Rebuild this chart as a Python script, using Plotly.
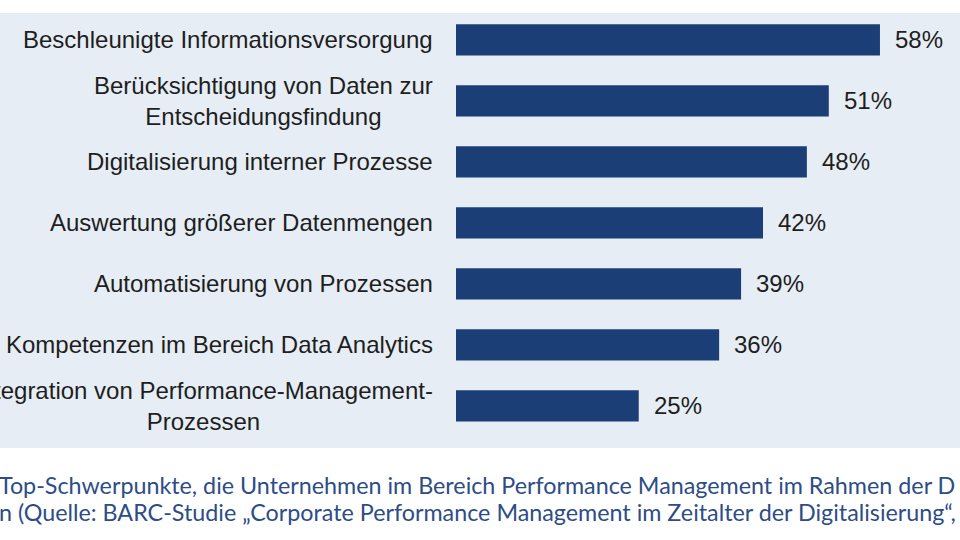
import plotly.graph_objects as go

categories = [
    "Beschleunigte Informationsversorgung",
    "Berücksichtigung von Daten zur<br>Entscheidungsfindung",
    "Digitalisierung interner Prozesse",
    "Auswertung größerer Datenmengen",
    "Automatisierung von Prozessen",
    "Kompetenzen im Bereich Data Analytics",
    "Integration von Performance-Management-<br>Prozessen",
]
values = [58, 51, 48, 42, 39, 36, 25]
value_labels = ["58%", "51%", "48%", "42%", "39%", "36%", "25%"]
caption_lines = [
    "Top-Schwerpunkte, die Unternehmen im Bereich Performance Management im Rahmen der D",
    "n (Quelle: BARC-Studie „Corporate Performance Management im Zeitalter der Digitalisierung“,",
]

BAR = "#1b3e77"
BG = "#e6edf4"
TXT = "#1e1e1e"
CAP = "#2d4d86"

fig = go.Figure()
fig.add_trace(go.Bar(
    x=values, y=categories, orientation="h",
    marker=dict(color=BAR, line=dict(width=0)),
    width=0.51, hoverinfo="skip",
))

annotations = []
for cat, v, lab in zip(categories, values, value_labels):
    annotations.append(dict(
        x=0, xref="paper", y=cat, yref="y", text=cat,
        xanchor="right", yanchor="middle", xshift=-21,
        showarrow=False, align="center",
        font=dict(family="Liberation Sans, Arial, sans-serif", size=24, color=TXT),
    ))
    annotations.append(dict(
        x=v, xref="x", y=cat, yref="y", text=lab,
        xanchor="left", yanchor="middle", xshift=13, showarrow=False,
        font=dict(family="Liberation Sans, Arial, sans-serif", size=24, color=TXT),
    ))

for i, line in enumerate(caption_lines):
    annotations.append(dict(
        x=0, xref="paper", y=[-0.085, -0.147][i], yref="paper", text=line,
        xanchor="left", yanchor="middle", xshift=-456 + (-3 if i == 0 else -3),
        showarrow=False, align="left",
        font=dict(family="Lato, Open Sans, sans-serif", size=23.3, color=CAP),
    ))

fig.update_layout(
    width=960, height=540,
    margin=dict(l=456, r=0, t=13, b=92, pad=0),
    paper_bgcolor="white", plot_bgcolor=BG,
    showlegend=False,
    xaxis=dict(range=[0, 68.95], visible=False, fixedrange=True),
    yaxis=dict(type="category", range=[6.69, -0.44], visible=False, fixedrange=True),
    shapes=[dict(type="rect", xref="paper", yref="paper", x0=-1, x1=1, y0=0, y1=1,
                 fillcolor=BG, line=dict(width=0), layer="below")],
    annotations=annotations,
)

fig.write_html("out.html", config={"displayModeBar": False},
               post_script="document.body.style.margin='0';document.body.style.overflow='hidden';")
